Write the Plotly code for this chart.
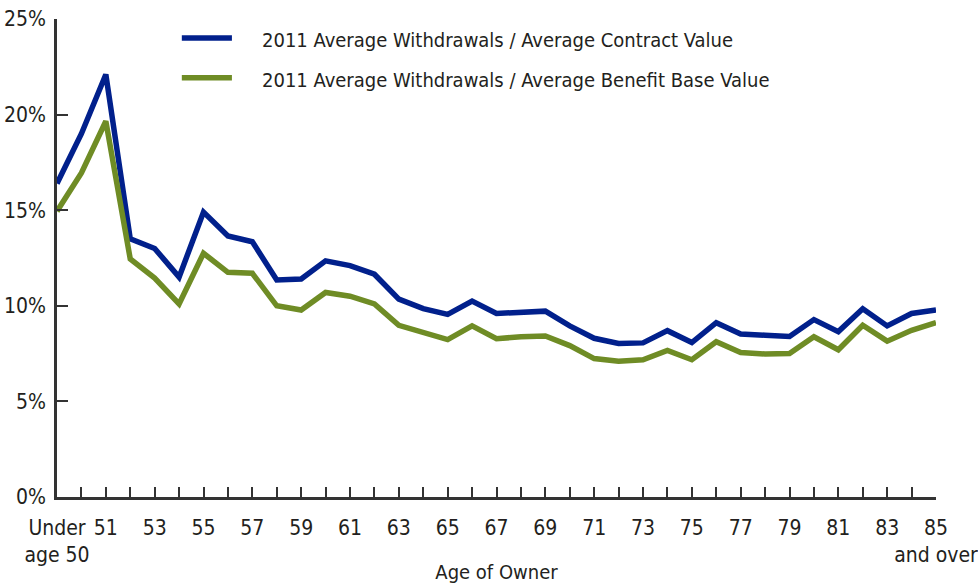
import plotly.graph_objects as go

# Owner age groups (category axis)
age_groups = ["Under age 50"] + [str(a) for a in range(50, 85)] + ["85 and over"]

# Tick labels: every other age group is labelled
tick_text = ["Under<br>age 50", "", "51", "", "53", "", "55", "", "57", "", "59", "", "61", "",
             "63", "", "65", "", "67", "", "69", "", "71", "", "73", "", "75", "", "77", "",
             "79", "", "81", "", "83", "", "85<br>and over"]

y_ticks = [0, 5, 10, 15, 20, 25]
y_tick_text = ["0%", "5%", "10%", "15%", "20%", "25%"]

# Withdrawal rates (%)
contract_value_pct = [16.4, 19.0, 22.1, 13.5, 13.0, 11.5, 14.9, 13.65, 13.35, 11.35, 11.4, 12.35,
                      12.1, 11.65, 10.35, 9.85, 9.55, 10.25, 9.6, 9.68, 9.72, 8.95, 8.3, 8.03,
                      8.06, 8.7, 8.08, 9.12, 8.53, 8.46, 8.4, 9.28, 8.65, 9.85, 8.95, 9.6, 9.78]
benefit_base_pct = [14.95, 16.95, 19.65, 12.45, 11.45, 10.1, 12.75, 11.75, 11.7, 10.0, 9.78, 10.7,
                    10.5, 10.1, 8.98, 8.6, 8.23, 8.95, 8.28, 8.38, 8.42, 7.92, 7.24, 7.1,
                    7.18, 7.66, 7.18, 8.12, 7.56, 7.48, 7.5, 8.38, 7.7, 8.98, 8.15, 8.72, 9.12]

series_names = ["2011 Average Withdrawals / Average Contract Value",
                "2011 Average Withdrawals / Average Benefit Base Value"]
colors = ["#01208C", "#6F8C25"]

FONT = "DejaVu Sans Condensed, Liberation Sans Narrow, sans-serif"
TEXT = "#231F20"

fig = go.Figure()
for name, vals, col in zip(series_names, [contract_value_pct, benefit_base_pct], colors):
    fig.add_trace(go.Scatter(x=age_groups, y=vals, mode="lines", name=name,
                             line=dict(color=col, width=5.5), showlegend=False,
                             cliponaxis=False))

# Legend drawn as line swatches with labels
legend_y = [0.960, 0.877]
for name, col, ly in zip(series_names, colors, legend_y):
    fig.add_shape(type="line", xref="paper", yref="paper", x0=0.142, x1=0.199, y0=ly, y1=ly,
                  line=dict(color=col, width=5.5))
    fig.add_annotation(xref="paper", yref="paper", x=0.231, y=ly - 0.004, text=name,
                       showarrow=False, xanchor="left", yanchor="middle",
                       font=dict(family=FONT, size=20, color=TEXT))

fig.update_layout(
    width=978, height=584,
    margin=dict(l=57, r=42, t=19, b=87),
    plot_bgcolor="white", paper_bgcolor="white",
    font=dict(family=FONT, size=20, color=TEXT),
)
fig.update_xaxes(
    type="category", range=[0, 36], automargin=False,
    tickmode="array", tickvals=age_groups, ticktext=tick_text, tickangle=0,
    ticks="inside", ticklen=10, tickwidth=1.5, tickcolor="#333",
    showline=True, linecolor="#333", linewidth=2.5,
    showgrid=False, zeroline=False,
    tickfont=dict(size=21), ticklabelstandoff=10,
    title=dict(text="Age of Owner", font=dict(size=20), standoff=2),
)
fig.update_yaxes(
    range=[0, 25], automargin=False, tickmode="array", tickvals=y_ticks, ticktext=y_tick_text,
    ticks="inside", ticklen=11, tickwidth=1.5, tickcolor="#333",
    showline=True, linecolor="#333", linewidth=2.5,
    showgrid=False, zeroline=False,
    tickfont=dict(size=21), ticklabelstandoff=4,
)

fig.write_html("out.html")
